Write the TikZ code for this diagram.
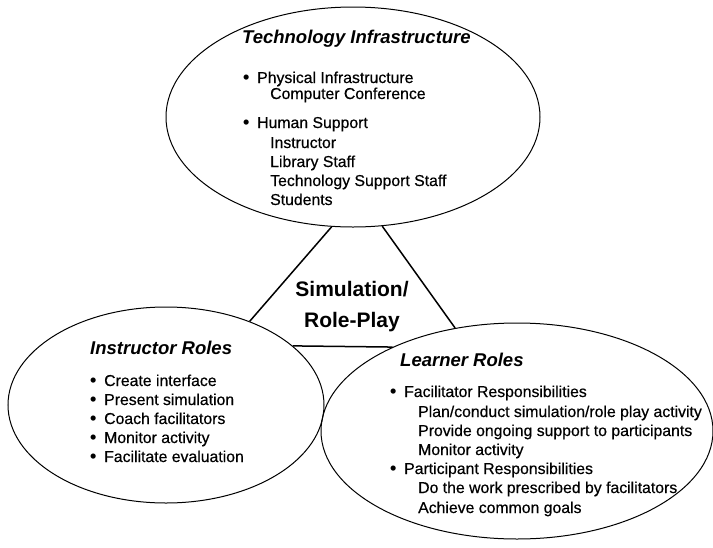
\documentclass[tikz,border=0pt]{standalone}
\usepackage{fontspec}
\setmainfont{Liberation Sans}
\newfontfamily\itemfont{Liberation Sans}[BoldFont={Liberation Sans},BoldFeatures={FakeBold=0.5}]
\usetikzlibrary{shapes.geometric}
\begin{document}
\begin{tikzpicture}[x=1pt,y=-1pt,
  oval/.style={ellipse,draw,line width=1.0pt,inner sep=0pt},
  side/.style={draw,line width=1.5pt},
  ttl/.style={anchor=base west,inner sep=0pt,font=\fontsize{18.5}{20}\selectfont\bfseries\itshape},
  itm/.style={anchor=base west,inner sep=0pt,font=\fontsize{15.8}{18}\selectfont\itemfont\bfseries},
  blt/.style={anchor=base west,inner sep=0pt,font=\fontsize{18}{18}\selectfont\bfseries},
  ctr/.style={anchor=base,inner sep=0pt,font=\fontsize{21}{24}\selectfont\bfseries}]
\useasboundingbox (0,0) rectangle (713,547);
% ellipses
\node[oval,minimum width=374pt,minimum height=220pt] (tech) at (353,117) {};
\node[oval,minimum width=316pt,minimum height=196pt] (instr) at (166,405) {};
\node[oval,minimum width=392pt,minimum height=216pt] (learn) at (517,431) {};
% triangle sides
\draw[side] (tech.259.6) -- (instr.45.3);
\draw[side] (tech.285.4) -- (learn.121);
\draw[side] (instr.25.4) -- (learn.146.2);
% centre label
\node[ctr] (sim1) at (352,296) {Simulation/};
\node[ctr] (sim2) at (352,327) {Role-Play};
% technology infrastructure
\node[ttl] (t0) at (242,43) {Technology Infrastructure};
\node[blt] (t1b) at (243,83) {\textbullet};
\node[itm] (t1) at (257,83) {Physical Infrastructure};
\node[itm] (t2) at (270,99) {Computer Conference};
\node[blt] (t3b) at (243,128) {\textbullet};
\node[itm] (t3) at (257,128) {Human Support};
\node[itm] (t4) at (270,148) {Instructor};
\node[itm] (t5) at (270,167) {Library Staff};
\node[itm] (t6) at (270,186) {Technology Support Staff};
\node[itm] (t7) at (270,205) {Students};
% instructor roles
\node[ttl] (i0) at (90,354) {Instructor Roles};
\node[blt] (i1b) at (90,386) {\textbullet};
\node[itm] (i1) at (104,386) {Create interface};
\node[blt] (i2b) at (90,405) {\textbullet};
\node[itm] (i2) at (104,405) {Present simulation};
\node[blt] (i3b) at (90,424) {\textbullet};
\node[itm] (i3) at (104,424) {Coach facilitators};
\node[blt] (i4b) at (90,443) {\textbullet};
\node[itm] (i4) at (104,443) {Monitor activity};
\node[blt] (i5b) at (90,462) {\textbullet};
\node[itm] (i5) at (104,462) {Facilitate evaluation};
% learner roles
\node[ttl] (l0) at (400,366) {Learner Roles};
\node[blt] (l1b) at (390,397) {\textbullet};
\node[itm] (l1) at (404,397) {Facilitator Responsibilities};
\node[itm] (l2) at (418,417) {Plan/conduct simulation/role play activity};
\node[itm] (l3) at (418,436) {Provide ongoing support to participants};
\node[itm] (l4) at (418,455) {Monitor activity};
\node[blt] (l5b) at (390,474) {\textbullet};
\node[itm] (l5) at (404,474) {Participant Responsibilities};
\node[itm] (l6) at (418,493) {Do the work prescribed by facilitators};
\node[itm] (l7) at (418,513) {Achieve common goals};
\end{tikzpicture}
\end{document}
